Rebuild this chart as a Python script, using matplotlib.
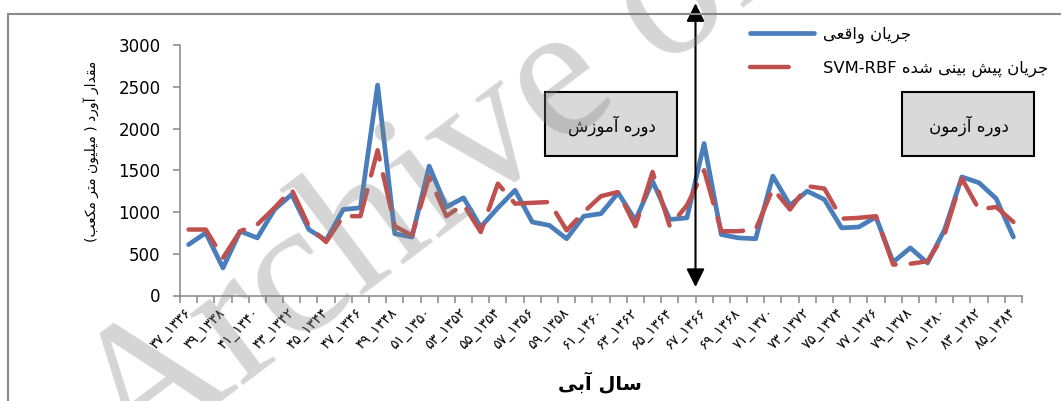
import matplotlib
matplotlib.use("Agg")
import matplotlib.pyplot as plt
from matplotlib.lines import Line2D
from matplotlib.patches import Rectangle

plt.rcParams['font.family'] = ['DejaVu Sans']

# --- datos: سال آبی 1336-37 ... 1384-85 ---
start_years = list(range(1336, 1385))
observed = [610, 750, 330, 770, 690, 1030, 1210, 790, 660, 1030,
            1050, 2520, 740, 700, 1550, 1060, 1170, 820, 1050, 1260,
            880, 840, 680, 950, 980, 1230, 900, 1370, 910, 930,
            1820, 730, 690, 680, 1430, 1080, 1250, 1150, 810, 820,
            940, 400, 570, 390, 790, 1420, 1350, 1160, 700]
predicted = [790, 790, 450, 770, 850, 1050, 1270, 830, 640, 950,
             950, 1740, 830, 720, 1420, 950, 1090, 760, 1340, 1100,
             1110, 1120, 780, 1000, 1190, 1240, 830, 1480, 830, 1080,
             1500, 770, 770, 790, 1280, 1030, 1310, 1280, 920, 930,
             950, 370, 380, 410, 740, 1400, 1030, 1060, 880]
split_index = 29.5   # مرز دوره آموزش / آزمون

txt_obs = 'جریان واقعی'
txt_pred = 'جریان پیش بینی شده'
txt_train = 'دوره آموزش'
txt_test = 'دوره آزمون'
txt_ylabel = 'مقدار آورد ( میلیون متر مکعب)'
txt_xlabel = 'سال آبی'

# --- شکل‌دهی حروف فارسی (matplotlib خودش این کار را نمی‌کند) ---
FORMS = {
    '\u0627': ('\uFE8D', '\uFE8E', None, None),
    '\u0622': ('\uFE81', '\uFE82', None, None),
    '\u0628': ('\uFE8F', '\uFE90', '\uFE91', '\uFE92'),
    '\u067E': ('\uFB56', '\uFB57', '\uFB58', '\uFB59'),
    '\u062A': ('\uFE95', '\uFE96', '\uFE97', '\uFE98'),
    '\u062C': ('\uFE9D', '\uFE9E', '\uFE9F', '\uFEA0'),
    '\u062F': ('\uFEA9', '\uFEAA', None, None),
    '\u0631': ('\uFEAD', '\uFEAE', None, None),
    '\u0632': ('\uFEAF', '\uFEB0', None, None),
    '\u0633': ('\uFEB1', '\uFEB2', '\uFEB3', '\uFEB4'),
    '\u0634': ('\uFEB5', '\uFEB6', '\uFEB7', '\uFEB8'),
    '\u0639': ('\uFEC9', '\uFECA', '\uFECB', '\uFECC'),
    '\u0642': ('\uFED5', '\uFED6', '\uFED7', '\uFED8'),
    '\u06A9': ('\uFB8E', '\uFB8F', '\uFB90', '\uFB91'),
    '\u0644': ('\uFEDD', '\uFEDE', '\uFEDF', '\uFEE0'),
    '\u0645': ('\uFEE1', '\uFEE2', '\uFEE3', '\uFEE4'),
    '\u0646': ('\uFEE5', '\uFEE6', '\uFEE7', '\uFEE8'),
    '\u0647': ('\uFEE9', '\uFEEA', '\uFEEB', '\uFEEC'),
    '\u0648': ('\uFEED', '\uFEEE', None, None),
    '\u06CC': ('\uFBFC', '\uFBFD', '\uFBFE', '\uFBFF'),
}


def fa(text):
    text = text.replace('\u064A', '\u06CC').replace('\u0643', '\u06A9')
    out = []
    for i, ch in enumerate(text):
        f = FORMS.get(ch)
        if f is None:
            out.append(ch)
            continue
        prev = FORMS.get(text[i - 1]) if i > 0 else None
        nxt = FORMS.get(text[i + 1]) if i + 1 < len(text) else None
        join_prev = prev is not None and prev[2] is not None
        join_next = nxt is not None and f[2] is not None
        if join_prev and join_next:
            out.append(f[3])
        elif join_prev:
            out.append(f[1])
        elif join_next:
            out.append(f[2])
        else:
            out.append(f[0])
    vis = ''.join(reversed(out))
    return vis.translate(str.maketrans('()', ')('))


def fa_digits(s):
    return s.translate(str.maketrans('0123456789', '۰۱۲۳۴۵۶۷۸۹'))


tick_labels = [fa_digits(f"{(y + 1) % 100:02d}_{y}") for y in start_years]

# --- grafico ---
fig = plt.figure(figsize=(10.61, 4.01), dpi=100)
ax = fig.add_axes([180 / 1061, 1 - 295.5 / 401, 842 / 1061, 250.5 / 401])

x = list(range(len(start_years)))
blue = '#4A7EBB'
red = '#C0504D'
ax.plot(x, observed, color=blue, lw=3.4, solid_joinstyle='round',
        solid_capstyle='round', zorder=3)
ax.plot(x, predicted, color=red, lw=3.2, linestyle=(0, (8, 3.4)),
        dash_capstyle='round', dash_joinstyle='round', zorder=4)

ax.set_xlim(-0.5, len(start_years) - 0.5)
ax.set_ylim(0, 3000)
ax.set_yticks(range(0, 3001, 500))
ax.tick_params(axis='y', labelsize=12, length=5, width=1.1,
               color='#868686', pad=9)

ax.set_xticks(x[::2])
ax.set_xticklabels(tick_labels[::2], rotation=45, ha='right', va='center',
                   rotation_mode='anchor', fontsize=10)
ax.set_xticks([i - 0.5 for i in range(len(start_years) + 1)], minor=True)
ax.tick_params(axis='x', which='major', length=0, pad=11)
ax.tick_params(axis='x', which='minor', length=5, width=1.1, color='#868686')

for side in ('top', 'right'):
    ax.spines[side].set_visible(False)
for side in ('left', 'bottom'):
    ax.spines[side].set_color('#868686')
    ax.spines[side].set_linewidth(1.1)

ax.set_ylabel(fa(txt_ylabel), fontsize=10)
ax.yaxis.set_label_coords(-80 / 842, 0.577)
fig.text(600 / 1061, 1 - 383 / 401, fa(txt_xlabel), fontsize=14,
         fontweight='bold', ha='center', va='center')

# flecha vertical entre entrenamiento y prueba
ax.annotate('', xy=(split_index, 102), xytext=(split_index, 3500),
            arrowprops=dict(arrowstyle='<|-|>,head_length=0.5,head_width=0.25',
                            color='black', lw=1.5, mutation_scale=22,
                            shrinkA=0, shrinkB=0),
            annotation_clip=False, zorder=5)

# cajas de texto
for x0, label in [(545, txt_train), (902, txt_test)]:
    fig.patches.append(Rectangle((x0 / 1061, 1 - 156 / 401), 132 / 1061,
                                 64 / 401, transform=fig.transFigure,
                                 facecolor='#D9D9D9', edgecolor='black',
                                 lw=1.5, zorder=2))
    fig.text((x0 + 67) / 1061, 1 - 126 / 401, fa(label), fontsize=12,
             ha='center', va='center', zorder=3)

# leyenda
h_obs = Line2D([], [], color=blue, lw=3.4, solid_capstyle='round')
h_pred = Line2D([], [], color=red, lw=3.2, linestyle=(0, (8.7, 5.7)),
                dash_capstyle='round')
fig.legend([h_obs, h_pred], [fa(txt_obs), 'SVM-RBF ' + fa(txt_pred)],
           loc='upper left', bbox_to_anchor=(749.5 / 1061, 1 - 27 / 401),
           frameon=False, fontsize=11.8, handlelength=3.95,
           handletextpad=0.55, labelspacing=1.05, borderpad=0,
           borderaxespad=0)

# marco del grafico
fig.patches.append(Rectangle((8 / 1061, -0.1), 1.2, 1.1 - 14 / 401,
                             transform=fig.transFigure, fill=False,
                             edgecolor='#898989', lw=1.5))

# marca de agua
fig.text(130 / 1061, 1 - 470 / 401, 'Archive of SID', fontsize=138,
         family='Liberation Serif', color='#808080', alpha=0.33,
         rotation=37, rotation_mode='anchor', ha='left', va='baseline',
         zorder=10)

fig.savefig('out.png', dpi=100)
